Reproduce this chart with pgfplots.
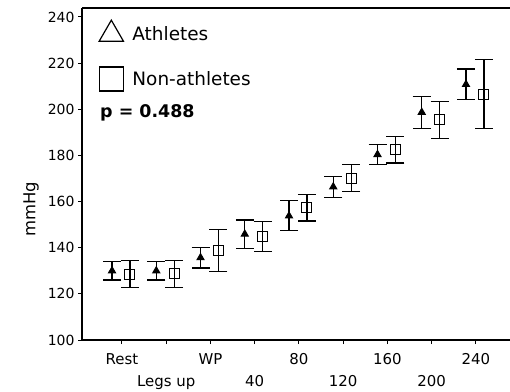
\documentclass[border=0pt]{standalone}
\usepackage{fontspec}
\setmainfont{DejaVu Sans}
\usepackage{pgfplots}
\pgfplotsset{compat=1.18}
\usepackage{pgfplotstable}

% Athletes (triangles): x = category - 0.225
\pgfplotstableread{
x y e
-0.225 130.0 4.0
0.775 130.0 4.0
1.775 135.7 4.5
2.775 145.9 6.1
3.775 153.8 6.5
4.775 166.4 4.5
5.775 180.4 4.5
6.775 198.7 6.9
7.775 210.8 6.7
}\athletes

% Non-athletes (squares): x = category + 0.18
\pgfplotstableread{
x y e
0.18 128.6 5.9
1.18 128.7 5.8
2.18 138.8 9.2
3.18 144.8 6.5
4.18 157.4 5.8
5.18 170.1 5.8
6.18 182.4 5.7
7.18 195.5 8.0
8.18 206.5 15.0
}\nonathletes

\begin{document}
\begin{tikzpicture}
\begin{axis}[
  name=ax,
  scale only axis,
  width=428bp, height=332bp,
  xmin=-0.904, xmax=8.77,
  ymin=100, ymax=243.9,
  axis lines*=left,
  axis line style={line width=1.2bp},
  tick align=outside,
  major tick length=4bp,
  tick style={line width=1bp, black},
  xtick={0,...,8},
  xticklabels={\strut Rest,{\strut\\Legs up},\strut WP,{\strut\\40},\strut 80,{\strut\\120},\strut 160,{\strut\\200},\strut 240},
  xticklabel style={font=\fontsize{15}{22}\selectfont, align=center, anchor=north, yshift=-2bp},
  ytick={100,120,...,240},
  yticklabel style={font=\fontsize{14}{16}\selectfont},
  /pgf/number format/assume math mode=true,
  ylabel={mmHg},
  every axis y label/.style={at={([xshift=-51bp]rel axis cs:0,0.393)}, rotate=90, anchor=center, font=\fontsize{16.5}{18}\selectfont},
  clip=false,
  legend style={at={(rel axis cs:0,1)}, anchor=north west, draw=none, fill=none,
    xshift=17bp, yshift=-12bp, font=\fontsize{18.5}{22}\selectfont, row sep=23bp,
    inner sep=0pt, /tikz/every odd column/.append style={column sep=7bp}},
  legend cell align=left,
  legend image code/.code={\draw[#1] plot coordinates {(12bp,0bp)};},
]
\addlegendimage{only marks, mark=triangle, mark size=14bp, line width=1.2bp, black}
\addlegendentry{Athletes}
\addlegendimage{only marks, mark=square, mark size=12bp, line width=1.2bp, black}
\addlegendentry{Non-athletes}

\addplot[forget plot, only marks, black, mark=triangle*, mark size=4bp, line width=1bp,
  error bars/.cd, y dir=both, y explicit,
  error bar style={line width=1.2bp, black},
  error mark options={rotate=90, mark size=9bp, line width=1.2bp, black}]
  table[x=x, y=y, y error=e] {\athletes};
\addplot[forget plot, only marks, black, mark=square, mark size=5bp, line width=1bp,
  error bars/.cd, y dir=both, y explicit,
  error bar style={line width=1.2bp, black},
  error mark options={rotate=90, mark size=9bp, line width=1.2bp, black}]
  table[x=x, y=y, y error=e] {\nonathletes};

\draw[line width=1.2bp] (rel axis cs:0,1) -- (rel axis cs:1,1);
\node[anchor=base west, inner sep=0pt, font=\bfseries\fontsize{17.5}{20}\selectfont]
  at ([xshift=18bp, yshift=-110bp]rel axis cs:0,1) {p = 0.488};
\end{axis}
\pgfresetboundingbox
\path[use as bounding box] ([xshift=-82bp, yshift=-51bp]ax.south west) rectangle ([yshift=8bp]ax.north east);
\end{tikzpicture}
\end{document}
